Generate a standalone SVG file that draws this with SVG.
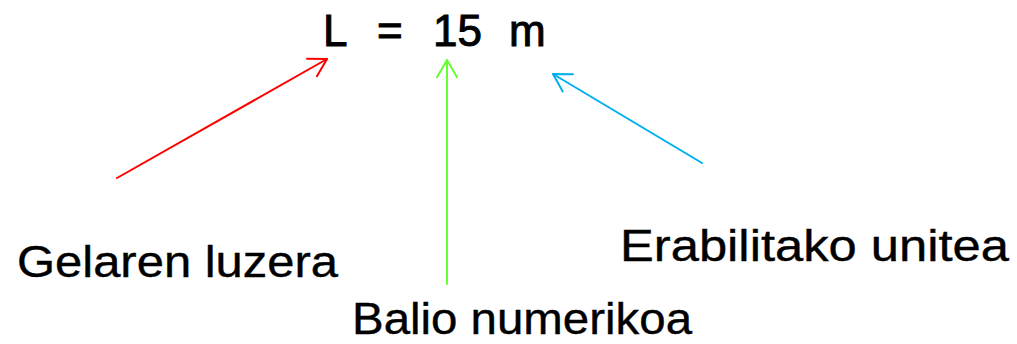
<svg xmlns="http://www.w3.org/2000/svg" width="1017" height="344" viewBox="0 0 1017 344">
  <style>
    .t { font-family: "Liberation Sans", Arial, sans-serif; fill: #000; }
    .eq { font-size: 44px; stroke: #000; stroke-width: 1; }
    .lbl { font-size: 45px; stroke: #000; stroke-width: 0.4; }
    .c { fill: none; stroke-width: 2; stroke-linecap: round; }
  </style>
  <defs>
    <marker id="ar" markerUnits="userSpaceOnUse" viewBox="-20 -12 22 24" refX="0" refY="0" markerWidth="22" markerHeight="24" orient="auto" overflow="visible">
      <path d="M-17.3,-10 L0,0 L-17.3,10" fill="none" stroke="#FF0000" stroke-width="2" stroke-linecap="round" stroke-linejoin="round"/>
    </marker>
    <marker id="ag" markerUnits="userSpaceOnUse" viewBox="-20 -12 22 24" refX="0" refY="0" markerWidth="22" markerHeight="24" orient="auto" overflow="visible">
      <path d="M-17.3,-10 L0,0 L-17.3,10" fill="none" stroke="#66FF33" stroke-width="2" stroke-linecap="round" stroke-linejoin="round"/>
    </marker>
    <marker id="ab" markerUnits="userSpaceOnUse" viewBox="-20 -12 22 24" refX="0" refY="0" markerWidth="22" markerHeight="24" orient="auto" overflow="visible">
      <path d="M-17.3,-10 L0,0 L-17.3,10" fill="none" stroke="#00B0F0" stroke-width="2" stroke-linecap="round" stroke-linejoin="round"/>
    </marker>
  </defs>

  <g id="equation">
    <text class="t eq" y="46"><tspan x="323">L</tspan><tspan x="377">=</tspan><tspan x="433">15</tspan><tspan x="509">m</tspan></text>
  </g>

  <g id="connectors">
    <line class="c" x1="117" y1="178" x2="327" y2="59" stroke="#FF0000" marker-end="url(#ar)"/>
    <line class="c" x1="447" y1="284" x2="447" y2="60" stroke="#66FF33" marker-end="url(#ag)"/>
    <line class="c" x1="702" y1="163" x2="553" y2="74" stroke="#00B0F0" marker-end="url(#ab)"/>
  </g>

  <g id="label-length">
    <text class="t lbl" x="17" y="277" textLength="321" lengthAdjust="spacingAndGlyphs">Gelaren luzera</text>
  </g>
  <g id="label-value">
    <text class="t lbl" x="352" y="334" font-size="43" textLength="340" lengthAdjust="spacingAndGlyphs">Balio numerikoa</text>
  </g>
  <g id="label-unit">
    <text class="t lbl" x="620" y="261" textLength="389" lengthAdjust="spacingAndGlyphs">Erabilitako unitea</text>
  </g>
</svg>
